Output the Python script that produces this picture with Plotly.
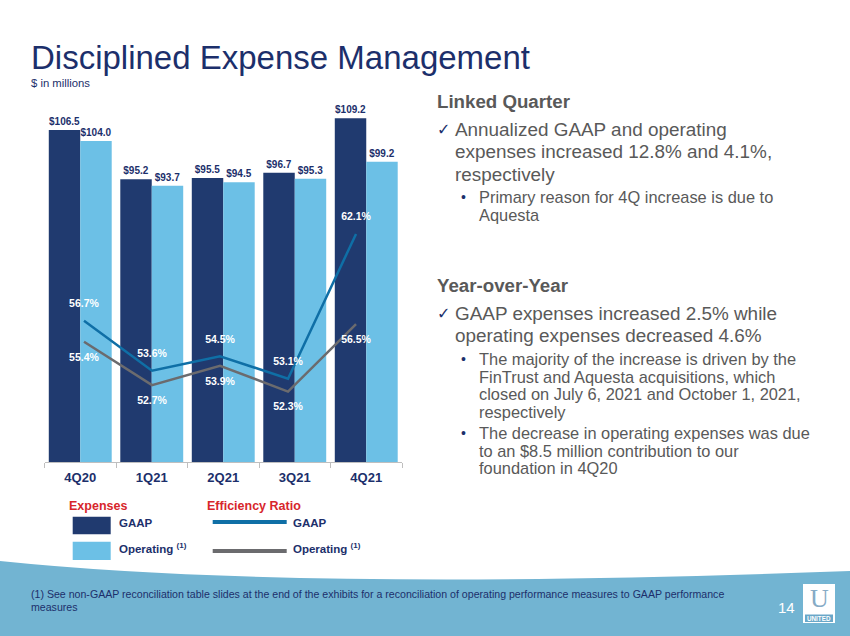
import plotly.graph_objects as go

W, H = 850, 636
FONT = "Liberation Sans, Arial, sans-serif"
NAVY = "#1c2f6b"
GRAY_TXT = "#595959"

quarters = ["4Q20", "1Q21", "2Q21", "3Q21", "4Q21"]
gaap_expense = [106.5, 95.2, 95.5, 96.7, 109.2]
operating_expense = [104.0, 93.7, 94.5, 95.3, 99.2]
gaap_efficiency = [56.7, 53.6, 54.5, 53.1, 62.1]
operating_efficiency = [55.4, 52.7, 53.9, 52.3, 56.5]

C_GAAP_BAR = "#203a6f"
C_OP_BAR = "#6cc0e6"
C_GAAP_LINE = "#0f6fa6"
C_OP_LINE = "#6b6b6e"


def px(x):
    return x / W


def py(y):
    return 1 - y / H


fig = go.Figure()

fig.add_trace(go.Bar(
    x=quarters, y=gaap_expense, name="GAAP", marker=dict(color=C_GAAP_BAR, line=dict(width=0)),
    texttemplate="$%{y:.1f}", textposition="outside", constraintext="none", cliponaxis=False,
    textfont=dict(family=FONT, size=10, color=NAVY, weight="bold"), showlegend=False))
fig.add_trace(go.Bar(
    x=quarters, y=operating_expense, name="Operating", marker=dict(color=C_OP_BAR, line=dict(width=0)),
    texttemplate="$%{y:.1f}", textposition="outside", constraintext="none", cliponaxis=False,
    textfont=dict(family=FONT, size=10, color=NAVY, weight="bold"), showlegend=False))

fig.add_trace(go.Scatter(
    x=quarters, y=gaap_efficiency, xaxis="x2", yaxis="y2", mode="lines+markers+text",
    line=dict(color=C_GAAP_LINE, width=2.5), marker=dict(size=16, color="rgba(0,0,0,0)"),
    text=[f"{v:.1f}%" for v in gaap_efficiency],
    textposition="top center", cliponaxis=False,
    textfont=dict(family=FONT, size=10.5, color="white", weight="bold"), showlegend=False))
fig.add_trace(go.Scatter(
    x=quarters, y=operating_efficiency, xaxis="x2", yaxis="y2", mode="lines+markers+text",
    line=dict(color=C_OP_LINE, width=2.5), marker=dict(size=16, color="rgba(0,0,0,0)"),
    text=[f"{v:.1f}%" for v in operating_efficiency],
    textposition="bottom center", cliponaxis=False,
    textfont=dict(family=FONT, size=10.5, color="white", weight="bold"), showlegend=False))

ann = []


def txt(x, y, s, size, color, bold=False, family=FONT, anchor="left"):
    ann.append(dict(x=px(x), y=py(y), xref="paper", yref="paper", text=s, showarrow=False,
                    xanchor=anchor, yanchor="middle",
                    font=dict(family=family, size=size, color=color, weight="bold" if bold else "normal")))


# Title
txt(29, 57, "Disciplined Expense Management", 33, NAVY)
txt(28.5, 83, "$ in millions", 11.3, NAVY)

# Right-hand commentary
txt(435, 101, "Linked Quarter", 18.7, GRAY_TXT, bold=True)
txt(435, 129, "✓", 16, NAVY, family="DejaVu Sans")
for i, line in enumerate(["Annualized GAAP and operating",
                          "expenses increased 12.8% and 4.1%,",
                          "respectively"]):
    txt(453, 129 + i * 22.5, line, 18.9, GRAY_TXT)
txt(459, 197, "•", 14, NAVY)
for i, line in enumerate(["Primary reason for 4Q increase is due to", "Aquesta"]):
    txt(477, 197 + i * 17.7, line, 16.4, GRAY_TXT)

txt(435, 285, "Year-over-Year", 18.7, GRAY_TXT, bold=True)
txt(435, 313, "✓", 16, NAVY, family="DejaVu Sans")
for i, line in enumerate(["GAAP expenses increased 2.5% while",
                          "operating expenses decreased 4.6%"]):
    txt(453, 313 + i * 22.5, line, 18.9, GRAY_TXT)
txt(459, 359, "•", 14, NAVY)
for i, line in enumerate(["The majority of the increase is driven by the",
                          "FinTrust and Aquesta acquisitions, which",
                          "closed on July 6, 2021 and October 1, 2021,",
                          "respectively"]):
    txt(477, 359 + i * 17.7, line, 16.4, GRAY_TXT)
txt(459, 433, "•", 14, NAVY)
for i, line in enumerate(["The decrease in operating expenses was due",
                          "to an $8.5 million contribution to our",
                          "foundation in 4Q20"]):
    txt(477, 433 + i * 17.7, line, 16.4, GRAY_TXT)

# Legend
RED = "#d7262c"
txt(67, 506, "Expenses", 12.5, RED, bold=True)
txt(205, 506, "Efficiency Ratio", 12.5, RED, bold=True)
txt(117, 523, "GAAP", 11.5, NAVY, bold=True)
txt(117, 548, "Operating <sup>(1)</sup>", 11.5, NAVY, bold=True)
txt(291, 523, "GAAP", 11.5, NAVY, bold=True)
txt(291, 548, "Operating <sup>(1)</sup>", 11.5, NAVY, bold=True)

shapes = []


def rect(x0, y0, x1, y1, color, line=None):
    shapes.append(dict(type="rect", xref="paper", yref="paper", x0=px(x0), x1=px(x1), y0=py(y1), y1=py(y0),
                       fillcolor=color, line=line or dict(width=0), layer="above"))


rect(72.7, 516.7, 110.7, 534.3, C_GAAP_BAR)
rect(72.7, 541.7, 110.7, 560, C_OP_BAR)
shapes.append(dict(type="line", xref="paper", yref="paper", x0=px(212.7), x1=px(286.7), y0=py(522), y1=py(522),
                   line=dict(color=C_GAAP_LINE, width=4)))
shapes.append(dict(type="line", xref="paper", yref="paper", x0=px(212.7), x1=px(286.7), y0=py(551), y1=py(551),
                   line=dict(color=C_OP_LINE, width=4)))

# Footer band
path = (f"M {px(0)},{py(561)} Q {px(300)},{py(592)} {px(850)},{py(571)} "
        f"L {px(850)},{py(636)} L {px(0)},{py(636)} Z")
shapes.append(dict(type="path", xref="paper", yref="paper", path=path, fillcolor="#72b4d2",
                   line=dict(width=0), layer="below"))
txt(29, 594, "(1) See non-GAAP reconciliation table slides at the end of the exhibits for a reconciliation "
    "of operating performance measures to GAAP performance", 10.6, NAVY)
txt(29, 607, "measures", 10.6, NAVY)
txt(786.5, 607, "14", 15, "white", anchor="center")
# Logo
rect(803, 584, 835, 623, "white")
rect(805, 614.5, 833, 622, "#6aa7c8")
txt(819, 598.5, "U", 26, "#86abc6", family="Liberation Serif, serif", anchor="center")
txt(819, 618.3, "UNITED", 6.3, "white", bold=True, anchor="center")

fig.update_layout(
    width=W, height=H, margin=dict(l=0, r=0, t=0, b=0),
    paper_bgcolor="white", plot_bgcolor="rgba(0,0,0,0)",
    barmode="group", bargap=0.12, bargroupgap=0,
    font=dict(family=FONT),
    annotations=ann, shapes=shapes,
    xaxis=dict(domain=[px(44.5), px(402)], type="category", categoryarray=quarters,
               showline=True, linecolor="#bfbfbf", linewidth=1,
               ticks="outside", tickson="boundaries", ticklen=5, tickcolor="#bfbfbf",
               ticklabelstandoff=3,
               tickfont=dict(family=FONT, size=13, color=NAVY, weight="bold"),
               showgrid=False, zeroline=False, anchor="y"),
    yaxis=dict(domain=[py(462), py(110)], range=[30.4, 111.08], visible=False, showgrid=False),
    xaxis2=dict(overlaying="x", type="category", categoryarray=quarters,
                range=[-0.581, 4.676], visible=False, showgrid=False),
    yaxis2=dict(overlaying="y", range=[47.92, 69.81], visible=False, showgrid=False),
)

fig.write_html("out.html", post_script="document.body.style.margin='0';",
               config={"displayModeBar": False})
